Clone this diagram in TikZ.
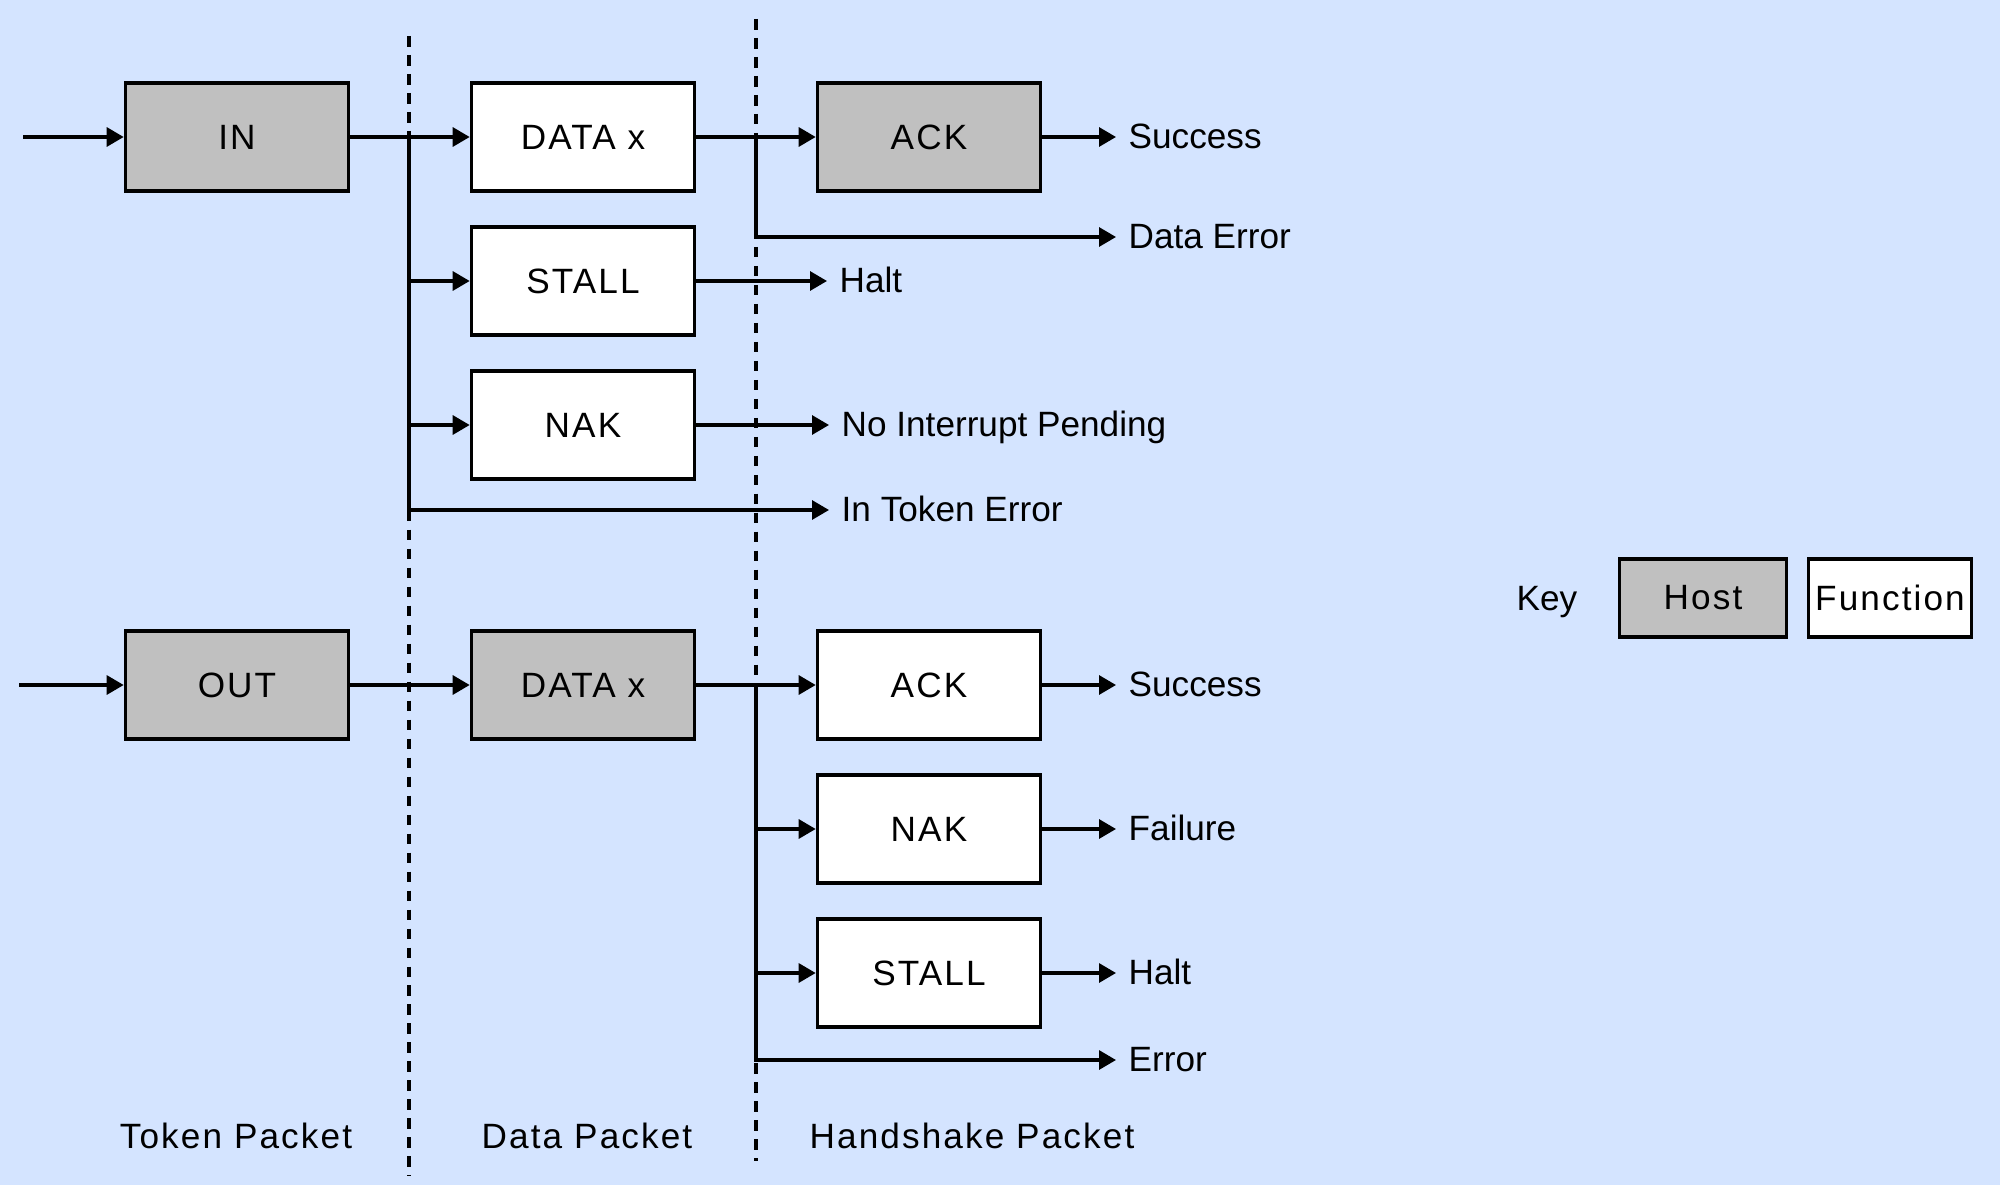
\documentclass[tikz,border=0pt]{standalone}
\usepackage{fontspec}
\setmainfont{Liberation Sans}
\newfontfamily\spacedfont[LetterSpace=6]{Liberation Sans}
\usetikzlibrary{arrows.meta}
\definecolor{panelblue}{RGB}{212,228,255}
\definecolor{hostgray}{RGB}{192,192,192}

\begin{document}
\begin{tikzpicture}[x=0.01cm, y=-0.01cm, >={Triangle[length=0.17cm,width=0.19cm]},
    pkt/.style={draw, line width=1pt, minimum width=2.23cm, minimum height=1.08cm, inner sep=0pt, font=\spacedfont},
    hostbox/.style={pkt, fill=hostgray},
    funcbox/.style={pkt, fill=white},
    flow/.style={->, line width=0.9pt},
    result/.style={anchor=west, inner xsep=0.12cm, inner ysep=0pt, text height=1.6ex, text depth=0.4ex},
    colhead/.style={font=\spacedfont},
    divider/.style={line width=0.9pt, dash pattern=on 3pt off 2.4pt}]
        % Background
        \fill[panelblue] (0,0) rectangle (2000,1185);
        \useasboundingbox (0,0) rectangle (2000,1185);

        % Column dividers
        \draw[divider] (409,36) -- (409,1176);
        \draw[divider] (756,19) -- (756,1161);

        % IN transaction
        \coordinate (instart) at (23,137);
        \coordinate (inbus) at (409,137);
        \coordinate (indbus) at (756,137);
        \node[hostbox] (in) at (237,137) {IN};
        \node[funcbox] (indata) at (583,137) {DATA x};
        \node[funcbox] (install) at (583,281) {STALL};
        \node[funcbox] (innak) at (583,425) {NAK};
        \node[hostbox] (inack) at (929,137) {ACK};
        \node[result] (insuccess) at (1116,137) {Success};
        \node[result] (indataerr) at (1116,237) {Data Error};
        \node[result] (inhalt) at (827,281) {Halt};
        \node[result] (innoint) at (829,425) {No Interrupt Pending};
        \node[result] (intokerr) at (829,510) {In Token Error};

        \draw[flow] (instart) -- (in);
        \draw[flow] (in) -- (indata);
        \draw[flow] (inbus) |- (install);
        \draw[flow] (inbus) |- (innak);
        \draw[flow] (inbus) |- (intokerr);
        \draw[flow] (indata) -- (inack);
        \draw[flow] (indbus) |- (indataerr);
        \draw[flow] (inack) -- (insuccess);
        \draw[flow] (install) -- (inhalt);
        \draw[flow] (innak) -- (innoint);

        % OUT transaction
        \coordinate (outstart) at (19,685);
        \coordinate (outdbus) at (756,685);
        \node[hostbox] (out) at (237,685) {OUT};
        \node[hostbox] (outdata) at (583,685) {DATA x};
        \node[funcbox] (outack) at (929,685) {ACK};
        \node[funcbox] (outnak) at (929,829) {NAK};
        \node[funcbox] (outstall) at (929,973) {STALL};
        \node[result] (outsuccess) at (1116,685) {Success};
        \node[result] (outfail) at (1116,829) {Failure};
        \node[result] (outhalt) at (1116,973) {Halt};
        \node[result] (outerr) at (1116,1060) {Error};

        \draw[flow] (outstart) -- (out);
        \draw[flow] (out) -- (outdata);
        \draw[flow] (outdata) -- (outack);
        \draw[flow] (outdbus) |- (outnak);
        \draw[flow] (outdbus) |- (outstall);
        \draw[flow] (outdbus) |- (outerr);
        \draw[flow] (outack) -- (outsuccess);
        \draw[flow] (outnak) -- (outfail);
        \draw[flow] (outstall) -- (outhalt);

        % Column headings
        \node[colhead] (tokenhead) at (236,1136) {Token Packet};
        \node[colhead] (datahead) at (587,1136) {Data Packet};
        \node[colhead] (shakehead) at (972,1136) {Handshake Packet};

        % Key
        \node (key) at (1547,602) {Key};
        \node[hostbox, minimum width=1.67cm, minimum height=0.78cm] (keyhost) at (1703,598) {Host};
        \node[funcbox, minimum width=1.63cm, minimum height=0.78cm] (keyfunc) at (1890,598) {Function};
\end{tikzpicture}
\end{document}
